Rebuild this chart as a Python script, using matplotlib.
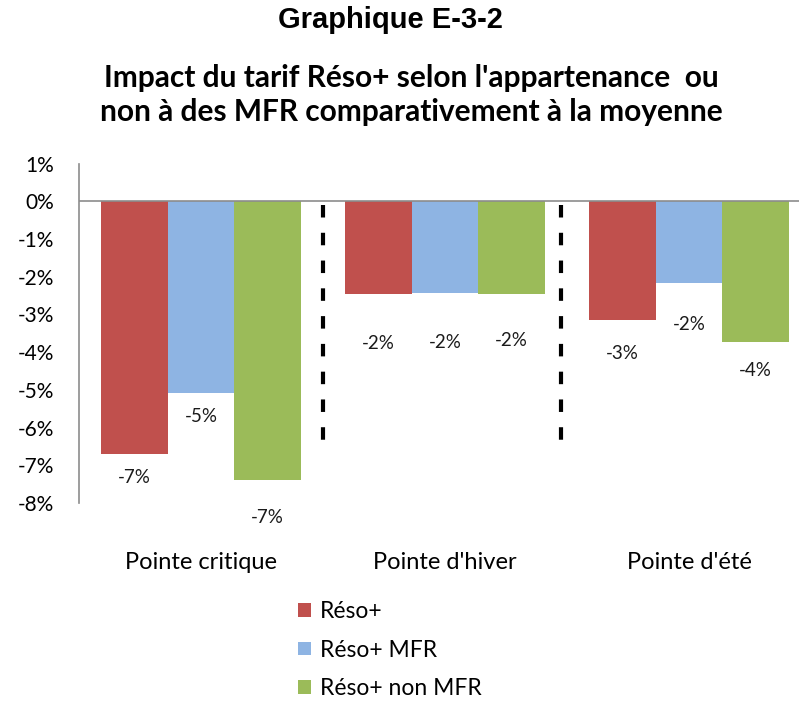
import matplotlib
matplotlib.use("Agg")
import matplotlib.pyplot as plt
from matplotlib.patches import Patch
import numpy as np

plt.rcParams['font.family'] = ['Lato', 'DejaVu Sans']
plt.rcParams['lines.scale_dashes'] = False

categories = ["Pointe critique", "Pointe d'hiver", "Pointe d'été"]
series_names = ["Réso+", "Réso+ MFR", "Réso+ non MFR"]
reso = [-6.71, -2.47, -3.16]
reso_mfr = [-5.08, -2.42, -2.16]
reso_non_mfr = [-7.40, -2.47, -3.74]
y_ticks = [1, 0, -1, -2, -3, -4, -5, -6, -7, -8]

colors = ["#C0504D", "#8EB4E3", "#9BBB59"]
# label offsets below each bar end (points), one row per series
label_offsets = [[17, 35, 24], [17, 36, 30], [27, 33, 20]]
separators = [0.5, 1.475]

fig = plt.figure(figsize=(7.99, 7.02), dpi=100)
ax = fig.add_axes([79 / 799, 1 - 503 / 702, 720 / 799, (503 - 163.6) / 702])

x = np.arange(len(categories))
width = 0.272
for i, (vals, name) in enumerate(zip([reso, reso_mfr, reso_non_mfr], series_names)):
    pos = x + (i - 1) * width
    ax.bar(pos, vals, width, color=colors[i], label=name)
    for xp, v, off in zip(pos, vals, label_offsets[i]):
        ax.annotate(f"{v:.0f}%", (xp, v), xytext=(0, -off), textcoords="offset points",
                    ha="center", va="center", fontsize=13.5, color="#1a1a1a")

for s in separators:
    ax.plot([s, s], [-0.1, -6.47], color="black", lw=3,
            linestyle=(0, (9, 11)), solid_capstyle="butt")

ax.axhline(0, color="#8c8c8c", lw=1.2, zorder=3)
ax.set_xlim(-0.5, -0.5 + 720 / 244)
ax.set_ylim(-8, 1)
ax.set_yticks(y_ticks)
ax.set_yticklabels([f"{t}%" for t in y_ticks])
ax.set_xticks(x)
ax.set_xticklabels(categories)
ax.tick_params(axis="y", length=0, pad=18, labelsize=15)
ax.tick_params(axis="x", length=0, pad=35, labelsize=17)
for side in ["top", "right", "bottom"]:
    ax.spines[side].set_visible(False)
ax.spines["left"].set_color("#8c8c8c")
ax.spines["left"].set_linewidth(1.2)

fig.text(390 / 799, 1 - 20 / 702, "Graphique E-3-2", ha="center", va="center",
         fontsize=21, fontweight="bold", family="Liberation Sans")
fig.text(411 / 799, 1 - 95 / 702,
         "Impact du tarif Réso+ selon l'appartenance  ou\nnon à des MFR comparativement à la moyenne",
         ha="center", va="center", fontsize=21.5, fontweight="bold", linespacing=1.3)

handles = [Patch(facecolor=c, edgecolor="none") for c in colors]
fig.legend(handles, series_names, loc="upper left", bbox_to_anchor=(287 / 799, 1 - 590 / 702),
           frameon=False, fontsize=16.5, handlelength=0.55, handleheight=0.55,
           handletextpad=0.4, labelspacing=0.75, borderpad=0)

fig.savefig("out.png", dpi=100)
